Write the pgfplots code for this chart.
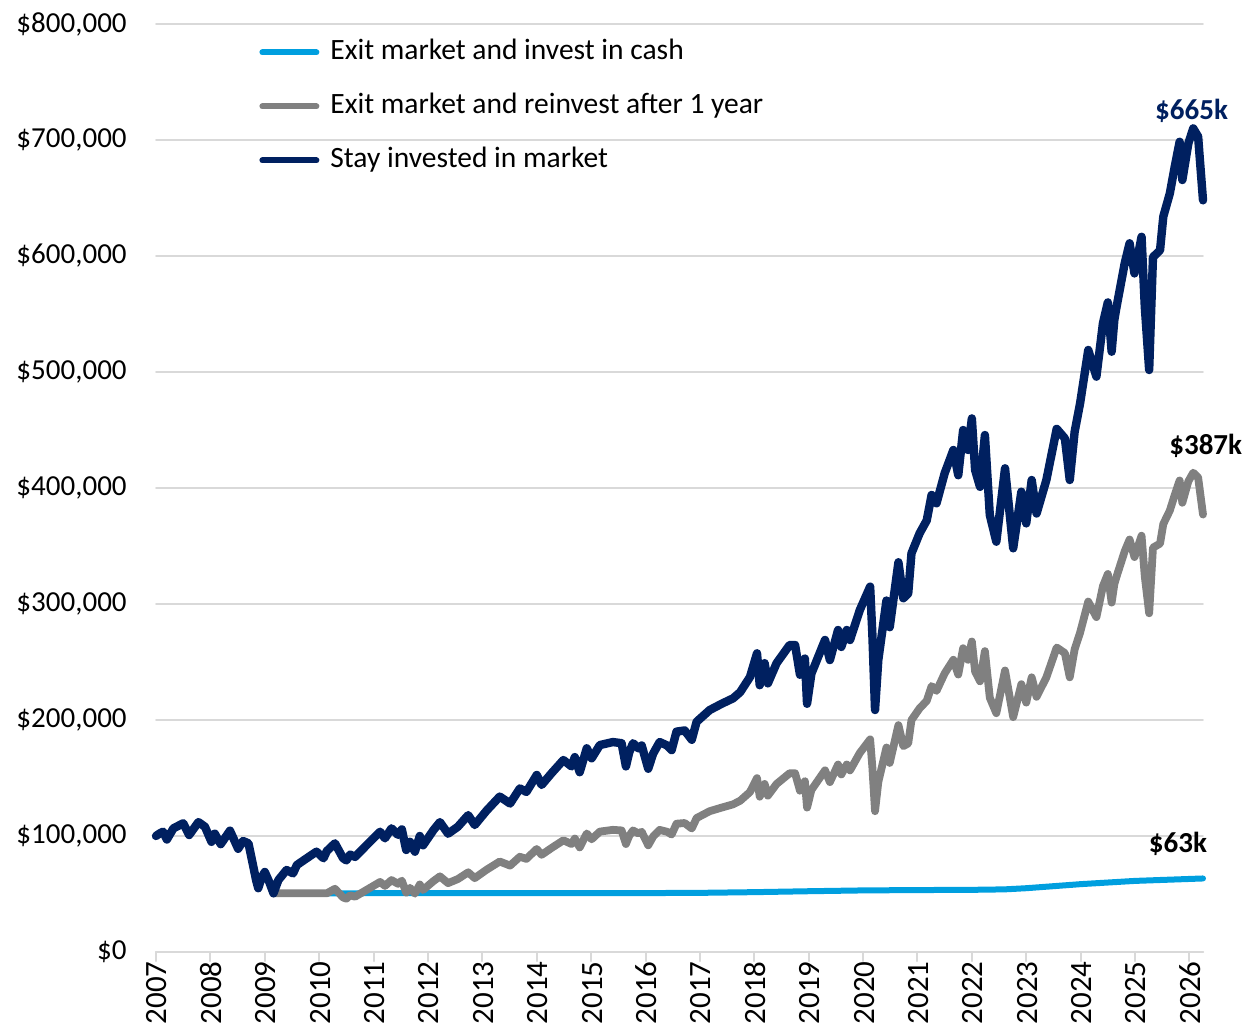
\documentclass[border=0pt]{standalone}
\usepackage{fontspec}
\setmainfont{Carlito}
\usepackage{pgfplots}
\usepackage{pgfplotstable}
\pgfplotsset{compat=1.18}
\definecolor{navy}{HTML}{002060}
\definecolor{cashblue}{HTML}{009FDF}
\definecolor{greyline}{HTML}{808080}
\definecolor{gridgrey}{HTML}{D9D9D9}
\newcommand\cf{\fontsize{14.5pt}{17pt}\selectfont}
\newcommand\lf{\fontsize{14.75pt}{17pt}\selectfont}
\newcommand\xf{\fontsize{15.5pt}{18pt}\selectfont}

\pgfplotstableread{
x y
2007.00 100
2007.06 102
2007.13 103.7
2007.20 97
2007.32 106.6
2007.50 111
2007.61 100.9
2007.78 112
2007.90 108
2008.02 95
2008.08 102
2008.19 93
2008.36 104.6
2008.51 89
2008.60 95.7
2008.70 93.7
2008.79 73.5
2008.84 62
2008.88 55
2008.94 64
2009.00 69
2009.08 60.6
2009.16 50.6
2009.25 62
2009.40 70.7
2009.52 67.8
2009.59 75
2009.77 80.8
2009.95 86.5
2010.08 80.8
2010.14 87
2010.29 93.7
2010.44 80.8
2010.50 79
2010.57 84
2010.66 82
2010.87 92
2011.12 103.7
2011.21 98
2011.33 106.6
2011.45 101
2011.52 105.7
2011.60 88
2011.67 95
2011.76 86.5
2011.85 100
2011.91 92
2012.10 105
2012.22 112
2012.37 102
2012.55 108
2012.74 118
2012.86 109.5
2013.08 122
2013.32 134
2013.51 128
2013.69 141
2013.81 138
2014.00 152.6
2014.09 144
2014.27 154
2014.49 165.5
2014.64 160
2014.70 168
2014.79 155
2014.92 175.6
2015.01 167
2015.16 178.4
2015.40 181
2015.56 180
2015.64 160
2015.70 172
2015.77 180
2015.87 175.6
2015.93 178
2016.05 158
2016.14 171
2016.26 181
2016.40 178
2016.48 174
2016.57 190
2016.72 191
2016.85 183
2016.94 198.5
2017.18 208.6
2017.40 214
2017.61 218.7
2017.74 224
2017.92 237
2018.05 257.5
2018.10 230
2018.19 249
2018.25 231.6
2018.41 249
2018.65 264.7
2018.75 264.7
2018.84 239
2018.93 253
2018.97 214
2019.05 240
2019.30 269
2019.39 251.7
2019.54 277.6
2019.60 263
2019.70 277.6
2019.76 269
2019.94 294.8
2020.13 315
2020.17 274.7
2020.22 208.6
2020.28 251.7
2020.43 303
2020.49 280
2020.65 336
2020.74 305
2020.83 309
2020.89 343.7
2021.04 361
2021.17 372
2021.26 394
2021.35 386.8
2021.50 412.7
2021.66 432.8
2021.75 411
2021.84 450
2021.93 432.8
2022.00 460
2022.06 415.5
2022.15 401
2022.24 445.7
2022.33 376.7
2022.45 353.7
2022.61 417
2022.76 348
2022.91 396.8
2023.00 369.5
2023.10 406.9
2023.19 378
2023.37 406.9
2023.56 451
2023.71 442.8
2023.80 406.9
2023.89 448.5
2023.99 473
2024.14 519
2024.29 496
2024.41 542
2024.50 560
2024.57 517.5
2024.62 545
2024.66 556
2024.81 593.7
2024.90 611
2024.99 585
2025.12 616.6
2025.18 556
2025.26 501.7
2025.33 599
2025.46 605
2025.52 634
2025.64 654
2025.73 677
2025.82 698.5
2025.87 665.5
2025.98 697
2026.07 710
2026.16 703
2026.25 648
}\stay

\pgfplotstableread{
x y
2009.16 50.6
2010.14 50.6
2010.29 54.5
2010.44 47.0
2010.50 46.0
2010.57 48.9
2010.66 47.7
2010.87 53.5
2011.12 60.4
2011.21 57.0
2011.33 62.0
2011.45 58.8
2011.52 61.5
2011.60 51.2
2011.67 55.3
2011.76 50.3
2011.85 58.2
2011.91 53.5
2012.10 61.1
2012.22 65.2
2012.37 59.4
2012.55 62.9
2012.74 68.7
2012.86 63.7
2013.08 71.0
2013.32 78.0
2013.51 74.5
2013.69 82.1
2013.81 80.3
2014.00 88.8
2014.09 83.8
2014.27 89.6
2014.49 96.3
2014.64 93.1
2014.70 97.8
2014.79 90.2
2014.92 102.2
2015.01 97.2
2015.16 103.8
2015.40 105.3
2015.56 104.8
2015.64 93.1
2015.70 100.1
2015.77 104.8
2015.87 102.2
2015.93 103.6
2016.05 92.0
2016.14 99.5
2016.26 105.3
2016.40 103.6
2016.48 101.3
2016.57 110.6
2016.72 111.2
2016.85 106.5
2016.94 115.5
2017.18 121.4
2017.40 124.5
2017.61 127.3
2017.74 130.4
2017.92 137.9
2018.05 149.9
2018.10 133.9
2018.19 144.9
2018.25 134.8
2018.41 144.9
2018.65 154.1
2018.75 154.1
2018.84 139.1
2018.93 147.2
2018.97 124.5
2019.05 139.7
2019.30 156.6
2019.39 146.5
2019.54 161.6
2019.60 153.1
2019.70 161.6
2019.76 156.6
2019.94 171.6
2020.13 183.3
2020.17 159.9
2020.22 121.4
2020.28 146.5
2020.43 176.3
2020.49 163.0
2020.65 195.6
2020.74 177.5
2020.83 179.8
2020.89 200.0
2021.04 210.1
2021.17 216.5
2021.26 229.3
2021.35 225.1
2021.50 240.2
2021.66 251.9
2021.75 239.2
2021.84 261.9
2021.93 251.9
2022.00 267.7
2022.06 241.8
2022.15 233.4
2022.24 259.4
2022.33 219.2
2022.45 205.9
2022.61 242.7
2022.76 202.5
2022.91 230.9
2023.00 215.0
2023.10 236.8
2023.19 220.0
2023.37 236.8
2023.56 262.5
2023.71 257.7
2023.80 236.8
2023.89 261.0
2023.99 275.3
2024.14 302.1
2024.29 288.7
2024.41 315.4
2024.50 325.9
2024.57 301.2
2024.62 317.2
2024.66 323.6
2024.81 345.5
2024.90 355.6
2024.99 340.5
2025.12 358.9
2025.18 323.6
2025.26 292.0
2025.33 348.6
2025.46 352.1
2025.52 369.0
2025.64 380.6
2025.73 394.0
2025.82 406.5
2025.87 387.3
2025.98 405.7
2026.07 413.2
2026.16 409.1
2026.25 377.1
}\reinvest

\pgfplotstableread{
x y
2009.16 50.6
2012.00 50.7
2016.00 50.8
2017.00 51.0
2018.00 51.6
2019.00 52.4
2020.00 53.1
2021.00 53.4
2022.00 53.6
2022.60 54.0
2023.00 55.0
2024.00 58.5
2025.00 61.3
2026.25 63.4
}\cash

\begin{document}
\begin{tikzpicture}
\begin{axis}[
  at={(0,0)}, anchor=south west,
  scale only axis, width=523.5pt, height=464pt,
  xmin=2007, xmax=2026.25, ymin=0, ymax=800,
  clip=false,
  axis x line*=bottom, axis y line*=left,
  x axis line style={-, draw=gridgrey, line width=1pt},
  y axis line style={draw=none},
  ymajorgrids, grid style={draw=gridgrey, line width=0.8pt},
  xtick={2007,2008,2009,2010,2011,2012,2013,2014,2015,2016,2017,2018,2019,2020,2021,2022,2023,2024,2025,2026},
  xticklabels={2007,2008,2009,2010,2011,2012,2013,2014,2015,2016,2017,2018,2019,2020,2021,2022,2023,2024,2025,2026},
  ytick={0,100,200,300,400,500,600,700,800},
  yticklabels={\$0,{\$100,000},{\$200,000},{\$300,000},{\$400,000},{\$500,000},{\$600,000},{\$700,000},{\$800,000}},
  tick align=outside, major tick length=4.5pt,
  xtick style={draw=gridgrey, line width=1pt},
  ytick style={draw=none},
  xticklabel style={rotate=90, anchor=east, inner sep=0pt, font=\xf, yshift=-0.5pt},
  yticklabel style={anchor=east, inner sep=0pt, xshift=-10pt, font=\cf},
  legend cell align=left,
  legend style={draw=none, fill=none, inner sep=0pt,
    at={(axis description cs:0,1)}, anchor=north west, xshift=51.5pt, yshift=-5.5pt,
    font=\lf, row sep=10pt, column sep=3.5pt,
    nodes={inner sep=2pt, text height=10pt, text depth=3pt}},
  legend image code/.code={\draw[#1, line width=3pt, line cap=round] (0pt,0pt) -- (27pt,0pt);},
  line join=round, line cap=round,
]
\addplot[color=cashblue, line width=3pt, mark=none] table[x=x,y=y] {\cash};
\addlegendentry{Exit market and invest in cash}
\addplot[color=greyline, line width=3.9pt, mark=none] table[x=x,y=y] {\reinvest};
\addlegendentry{Exit market and reinvest after 1 year}
\addplot[color=navy, line width=4.2pt, mark=none] table[x=x,y=y] {\stay};
\addlegendentry{Stay invested in market}
\node[font=\cf\bfseries, text=navy] at (axis cs:2026.04,725) {\$665k};
\node[font=\cf\bfseries, text=black] at (axis cs:2026.30,436) {\$387k};
\node[font=\cf\bfseries, text=black] at (axis cs:2025.79,93) {\$63k};
\end{axis}
\pgfresetboundingbox
\path[use as bounding box] (-78pt,-38.5pt) rectangle (544.5pt,476pt);
\end{tikzpicture}
\end{document}
